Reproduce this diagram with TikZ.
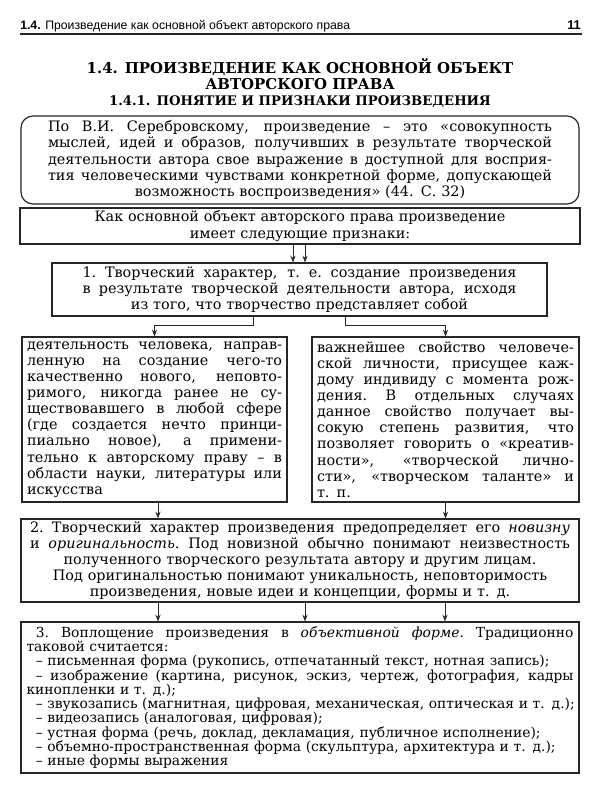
\documentclass[tikz,border=0pt]{standalone}
\usepackage{fontspec}
\setmainfont{DejaVu Serif}
\newfontfamily\headfont{Liberation Sans}
\usetikzlibrary{arrows.meta, positioning, calc}

% one justified line of a box
\newlength{\jw}
\newcommand{\jl}[1]{\leavevmode\hbox to \jw{\spaceskip=0.3em plus 1fil\xspaceskip=0.3em plus 1fil\relax #1}}

\begin{document}
\begin{tikzpicture}[x=0.75pt, y=-0.75pt,
    box/.style={draw=black!85, line width=0.9pt, align=center, inner ysep=0pt, font=\fontsize{10.8}{12.1}\selectfont},
    tw/.style={text width=#1, execute at begin node={\setlength{\jw}{#1}}},
    quotebox/.style={box, rounded corners=9pt},
    arr/.style={draw=black!85, line width=0.6pt, -{Stealth[length=5pt, width=3.8pt]}}
]
    \fill[white] (0,0) rectangle (600,800);
    \useasboundingbox (0,0) rectangle (600,800);

    % running head
    \node[anchor=base west, inner sep=0pt, font=\headfont\fontsize{9.2}{11}\selectfont] (runhead) at (20,29)
        {\textbf{1.4.} Произведение как основной объект авторского права};
    \node[anchor=base east, inner sep=0pt, font=\headfont\bfseries\fontsize{9.5}{11}\selectfont] (pagenum) at (581,29) {11};
    \draw[black!85, line width=1pt] (20,34) -- (582,34);

    % headings
    \node[align=center, font=\bfseries\fontsize{11.2}{11.6}\selectfont] (title) at (300,74)
        {1.4. ПРОИЗВЕДЕНИЕ КАК ОСНОВНОЙ ОБЪЕКТ\\АВТОРСКОГО ПРАВА};
    \node[font=\bfseries\fontsize{9.9}{12}\selectfont] (subtitle) at (300,102)
        {1.4.1. ПОНЯТИЕ И ПРИЗНАКИ ПРОИЗВЕДЕНИЯ};

    % boxes
    \node[quotebox, tw=378pt, inner xsep=20.25pt, minimum height=66pt] (quote) at (300,160)
        {\jl{По В.И. Серебровскому, произведение – это «совокупность}\\
         \jl{мыслей, идей и образов, получивших в результате творческой}\\
         \jl{деятельности автора свое выражение в доступной для восприя-}\\
         \jl{тия человеческими чувствами конкретной форме, допускающей}\\
         возможность воспроизведения» (44. С. 32)};
    \node[box, tw=378pt, inner xsep=21pt, minimum height=27pt] (intro) at (300,226)
        {Как основной объект авторского права произведение\\
         имеет следующие признаки:};
    \node[box, tw=325.5pt, inner xsep=22.9pt, minimum height=39.75pt] (sign1) at (299.5,289.5)
        {\jl{1. Творческий характер, т. е. создание произведения}\\
         \jl{в результате творческой деятельности автора, исходя}\\
         из того, что творчество представляет собой};
    \node[box, align=left, tw=191.25pt, inner xsep=3.75pt, minimum height=123.75pt] (activity) at (154.5,419.5)
        {\jl{деятельность человека, направ-}\\
         \jl{ленную на создание чего-то}\\
         \jl{качественно нового, неповто-}\\
         \jl{римого, никогда ранее не су-}\\
         \jl{ществовавшего в любой сфере}\\
         \jl{(где создается нечто принци-}\\
         \jl{пиально новое), а примени-}\\
         \jl{тельно к авторскому праву – в}\\
         \jl{области науки, литературы или}\\
         искусства};
    \node[box, align=left, tw=192.75pt, inner xsep=3.75pt, minimum height=123.75pt] (property) at (445.5,419.5)
        {\jl{важнейшее свойство человече-}\\
         \jl{ской личности, присущее каж-}\\
         \jl{дому индивиду с момента рож-}\\
         \jl{дения. В отдельных случаях}\\
         \jl{данное свойство получает вы-}\\
         \jl{сокую степень развития, что}\\
         \jl{позволяет говорить о «креатив-}\\
         \jl{ности», «творческой лично-}\\
         \jl{сти», «творческом таланте» и}\\
         т. п.};
    \node[box, tw=405pt, inner xsep=6.75pt, minimum height=62.25pt] (sign2) at (300,560.5)
        {\jl{2. Творческий характер произведения предопределяет его \textit{новизну}}\\
         \jl{и \textit{оригинальность}. Под новизной обычно понимают неизвестность}\\
         полученного творческого результата автору и другим лицам.\\
         Под оригинальностью понимают уникальность, неповторимость\\
         произведения, новые идеи и концепции, формы и т. д.};
    \node[box, align=left, tw=410.25pt, inner xsep=4.1pt, minimum height=113.25pt,
          font=\fontsize{10.4}{10.7}\selectfont] (sign3) at (300,697.5)
        {\jl{\hspace*{7pt}3. Воплощение произведения в \textit{объективной форме}. Традиционно}\\
         таковой считается:\\
         \mbox{\hspace*{7pt}– письменная форма (рукопись, отпечатанный текст, нотная запись);}\\
         \jl{\hspace*{7pt}– изображение (картина, рисунок, эскиз, чертеж, фотография, кадры}\\
         кинопленки и т. д.);\\
         \mbox{\hspace*{7pt}– звукозапись (магнитная, цифровая, механическая, оптическая и т. д.);}\\
         \mbox{\hspace*{7pt}– видеозапись (аналоговая, цифровая);}\\
         \mbox{\hspace*{7pt}– устная форма (речь, доклад, декламация, публичное исполнение);}\\
         \mbox{\hspace*{7pt}– объемно-пространственная форма (скульптура, архитектура и т. д.);}\\
         \mbox{\hspace*{7pt}– иные формы выражения}};

    % connectors
    \coordinate (a1) at ($(intro.south)+(-7,0)$);
    \coordinate (a2) at ($(intro.south)+(5,0)$);
    \draw[arr] (a1) -- (a1 |- sign1.north);
    \draw[arr] (a2) -- (a2 |- sign1.north);
    \draw[arr] ($(sign1.south)+(-46.5,0)$) -- ++(0,9) -| (activity.north);
    \draw[arr] ($(sign1.south)+(45.5,0)$) -- ++(0,9) -| (property.north);
    \coordinate (b1) at ($(activity.south)+(3.5,0)$);
    \draw[arr] (b1) -- (b1 |- sign2.north);
    \draw[arr] (property.south) -- (property.south |- sign2.north);
    \foreach \dx in {-142,5,145} {
        \coordinate (c) at ($(sign2.south)+(\dx,0)$);
        \draw[arr] (c) -- (c |- sign3.north);
    }
\end{tikzpicture}
\end{document}
